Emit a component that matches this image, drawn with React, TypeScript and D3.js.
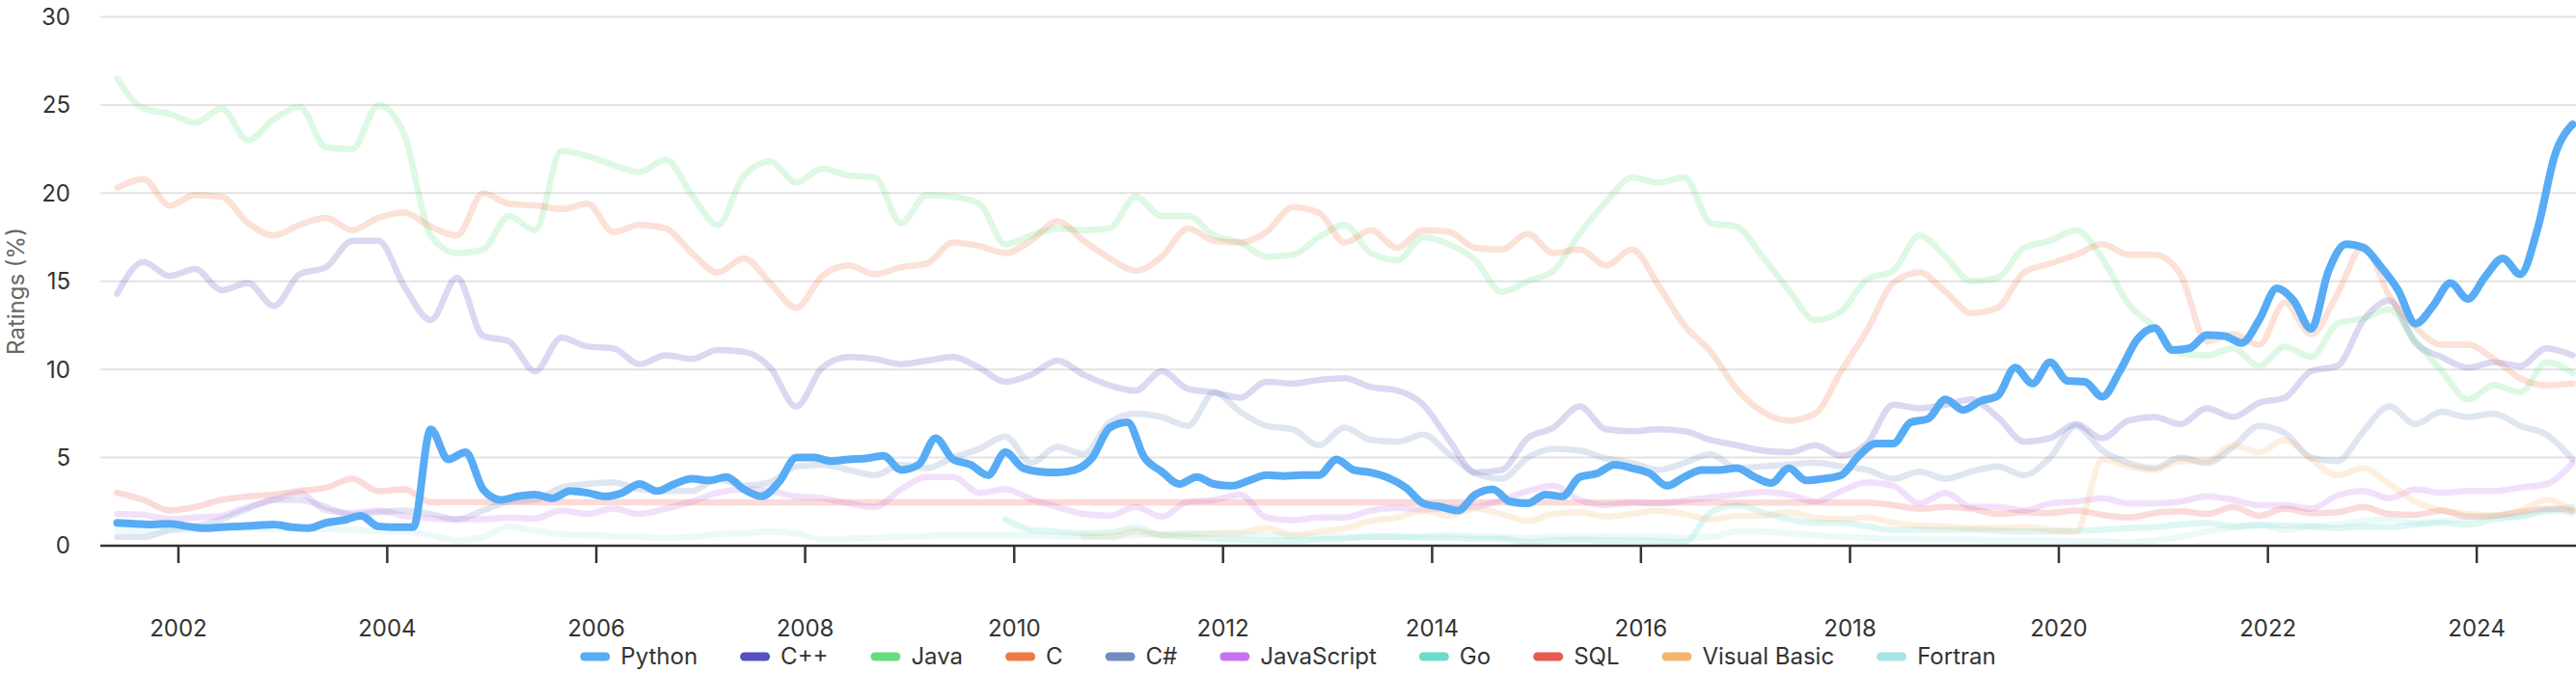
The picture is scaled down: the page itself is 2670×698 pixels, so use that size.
import * as d3 from "d3";

const WIDTH = 2670;
const HEIGHT = 698;
const plot = { left: 104, right: 2670, top: 17.5, bottom: 566 };

// TIOBE ratings (%)

// Python: every 2 months, Jun 2001 .. Dec 2024
const pythonValues = [
  1.3, 1.25, 1.2, 1.25, 1.1, 1.0, 1.05, 1.1, 1.15, 1.2,
  1.05, 1.0, 1.3, 1.45, 1.7, 1.1, 1.05, 1.05, 6.6, 4.9,
  5.3, 3.2, 2.6, 2.8, 2.9, 2.7, 3.1, 3.0, 2.8, 3.0,
  3.5, 3.1, 3.5, 3.8, 3.7, 3.9, 3.2, 2.8, 3.6, 5.0,
  5.0, 4.8, 4.9, 4.95, 5.1, 4.3, 4.6, 6.1, 4.9, 4.6,
  4.0, 5.3, 4.4, 4.2, 4.15, 4.3, 5.0, 6.7, 7.0, 5.0,
  4.2, 3.5, 3.9, 3.5, 3.4, 3.7, 4.0, 3.95, 4.0, 4.0,
  4.9, 4.3, 4.15, 3.85, 3.3, 2.4, 2.2, 2.0, 2.9, 3.2,
  2.5, 2.4, 2.9, 2.8, 3.9, 4.1, 4.6, 4.4, 4.1, 3.4,
  3.9, 4.3, 4.3, 4.4, 3.9, 3.55, 4.4, 3.7, 3.8, 4.0,
  5.1, 5.8, 5.8, 7.0, 7.2, 8.3, 7.7, 8.2, 8.5, 10.1,
  9.2, 10.4, 9.35, 9.3, 8.45, 9.9, 11.7, 12.35, 11.1, 11.2,
  11.95, 11.9, 11.5, 12.8, 14.6, 13.9, 12.3, 15.6, 17.1, 16.9,
  15.8, 14.5, 12.6, 13.6, 14.9, 14.0, 15.3, 16.3, 15.4, 18.0,
  22.2, 23.9,
];

// the rest: every 3 months from Jun 2001; xxStart = first quarter index
const cppValues = [
  14.3, 16.1, 15.3, 15.7, 14.5, 14.9, 13.6, 15.4, 15.8, 17.3,
  17.3, 14.7, 12.8, 15.2, 11.9, 11.6, 9.9, 11.8, 11.3, 11.2,
  10.3, 10.8, 10.6, 11.1, 11.0, 10.1, 7.9, 10.1, 10.7, 10.6,
  10.3, 10.5, 10.7, 10.1, 9.3, 9.7, 10.5, 9.7, 9.1, 8.8,
  9.9, 8.9, 8.7, 8.4, 9.3, 9.2, 9.4, 9.5, 9.0, 8.8,
  8.0, 6.0, 4.15, 4.3, 6.1, 6.7, 7.9, 6.6, 6.5, 6.6,
  6.5, 6.0, 5.7, 5.4, 5.3, 5.7, 5.1, 5.8, 8.0, 7.8,
  8.0, 8.3, 7.3, 5.9, 6.1, 6.9, 6.1, 7.1, 7.3, 6.9,
  7.8, 7.3, 8.1, 8.4, 9.9, 10.2, 12.8, 13.9, 11.5, 10.7,
  10.1, 10.4, 10.2, 11.2, 10.8,
];

const javaValues = [
  26.5, 24.8, 24.5, 24.0, 24.8, 23.0, 24.2, 24.9, 22.6, 22.5,
  25.0, 23.3, 17.6, 16.6, 16.8, 18.7, 17.9, 22.4, 22.1, 21.6,
  21.2, 21.9, 19.9, 18.2, 21.0, 21.8, 20.6, 21.4, 21.0, 20.9,
  18.3, 19.9, 19.8, 19.4, 17.1, 17.6, 18.0, 17.9, 18.0, 19.8,
  18.7, 18.7, 17.6, 17.2, 16.4, 16.5, 17.5, 18.2, 16.6, 16.2,
  17.5, 17.1, 16.2, 14.4, 15.0, 15.6, 17.7, 19.5, 20.9, 20.6,
  20.9, 18.3, 18.1, 16.4, 14.5, 12.8, 13.3, 15.1, 15.6, 17.6,
  16.4, 15.0, 15.2, 16.9, 17.3, 17.9, 16.3, 13.7, 12.4, 10.9,
  10.8, 11.2, 10.2, 11.3, 10.7, 12.6, 12.9, 13.4, 11.6, 9.9,
  8.3, 9.1, 8.7, 10.4, 9.8,
];

const cValues = [
  20.3, 20.8, 19.3, 19.9, 19.8, 18.3, 17.6, 18.2, 18.6, 17.9,
  18.6, 18.9, 18.1, 17.6, 20.0, 19.4, 19.3, 19.1, 19.4, 17.8,
  18.2, 18.0, 16.6, 15.5, 16.3, 14.9, 13.5, 15.3, 15.9, 15.4,
  15.8, 16.0, 17.2, 17.0, 16.6, 17.3, 18.4, 17.3, 16.3, 15.6,
  16.4, 18.0, 17.3, 17.2, 17.8, 19.2, 18.9, 17.2, 17.9, 16.9,
  17.9, 17.8, 16.9, 16.8, 17.7, 16.6, 16.8, 15.9, 16.8, 14.8,
  12.5, 11.0, 8.9, 7.6, 7.1, 7.5, 9.9, 12.2, 14.9, 15.5,
  14.4, 13.2, 13.5, 15.5, 16.0, 16.5, 17.1, 16.5, 16.5, 15.4,
  11.6, 12.0, 11.4, 13.8, 12.0, 14.3, 17.0, 14.2, 12.4, 11.4,
  11.4, 10.6, 9.5, 9.1, 9.2,
];

const csharpValues = [
  0.5, 0.5, 0.9, 1.1, 1.5, 2.1, 2.6, 2.6, 2.2, 1.75,
  1.9, 2.0, 1.8, 1.5, 2.0, 2.5, 2.6, 3.3, 3.5, 3.6,
  3.2, 3.1, 3.1, 3.8, 3.4, 3.6, 4.5, 4.6, 4.3, 4.0,
  4.6, 4.4, 5.0, 5.5, 6.2, 4.7, 5.6, 5.2, 7.0, 7.5,
  7.3, 6.8, 8.7, 7.6, 6.8, 6.6, 5.7, 6.7, 6.0, 5.9,
  6.3, 5.2, 4.1, 3.8, 5.0, 5.5, 5.4, 4.95, 4.7, 4.3,
  4.7, 5.2, 4.4, 4.5, 4.6, 4.7, 4.5, 4.3, 3.8, 4.2,
  3.8, 4.2, 4.5, 4.0, 5.0, 6.8, 5.4, 4.7, 4.4, 5.0,
  4.7, 5.6, 6.8, 6.4, 5.0, 4.8, 6.5, 7.9, 6.9, 7.6,
  7.3, 7.5, 6.8, 6.3, 4.9,
];

const jsValues = [
  1.8, 1.75, 1.5, 1.6, 1.7, 2.2, 2.6, 3.0, 2.0, 1.85,
  2.0, 1.7, 1.55, 1.5, 1.5, 1.6, 1.55, 2.0, 1.8, 2.1,
  1.8, 2.1, 2.5, 3.0, 3.2, 3.1, 2.8, 2.7, 2.4, 2.2,
  3.2, 3.9, 3.9, 3.0, 3.2, 2.65, 2.2, 1.8, 1.7, 2.2,
  1.65, 2.5, 2.6, 2.9, 1.6, 1.45, 1.6, 1.6, 2.0, 2.15,
  2.05, 2.15, 2.2, 2.6, 3.1, 3.4, 2.6, 2.3, 2.45, 2.4,
  2.55, 2.75, 2.9, 3.05, 2.9, 2.5, 3.1, 3.6, 3.4, 2.4,
  3.0, 2.2, 2.2, 2.0, 2.4, 2.5, 2.7, 2.4, 2.4, 2.5,
  2.8, 2.6, 2.3, 2.3, 2.1, 2.85, 3.1, 2.7, 3.2, 3.0,
  3.1, 3.1, 3.3, 3.5, 4.7,
];

const goStart = 34;
const goValues = [
  1.5, 0.9, 0.8, 0.7, 0.75, 1.0,
  0.6, 0.5, 0.4, 0.35, 0.3, 0.3, 0.35, 0.4, 0.5, 0.5,
  0.45, 0.45, 0.4, 0.4, 0.2, 0.3, 0.35, 0.3, 0.3, 0.25,
  0.2, 1.9, 2.3, 1.9, 1.5, 1.3, 1.3, 1.1, 0.9, 0.9,
  0.9, 0.9, 0.85, 0.8, 0.8, 0.85, 0.9, 1.0, 1.05, 1.2,
  1.3, 1.1, 1.15, 1.15, 1.1, 1.0, 1.1, 1.05, 1.2, 1.3,
  1.2, 1.5, 1.7, 2.0, 2.2,
];

// SQL drops out of the index between 2004 and 2018
const sqlEarlyValues = [3.0, 2.6, 2.0, 2.2, 2.6, 2.8, 2.9, 3.1, 3.3, 3.8, 3.1, 3.2, 2.47];
const sqlLateStart = 67;
const sqlLateValues = [
  2.45, 2.3, 2.1, 2.2, 2.1, 1.8, 1.9, 1.85, 2.0, 1.75,
  1.6, 1.85, 1.95, 1.8, 2.2, 1.7, 2.1, 1.85, 1.9, 2.2,
  1.8, 1.75, 2.0, 1.65, 1.7, 1.9, 2.1, 2.0,
];

const vbStart = 37;
const vbValues = [
  0.5, 0.5, 0.8,
  0.6, 0.65, 0.7, 0.75, 1.0, 0.6, 0.8, 1.0, 1.4, 1.6,
  2.0, 1.7, 2.1, 1.8, 1.4, 1.8, 1.9, 1.65, 1.8, 2.0,
  1.8, 1.5, 1.7, 1.7, 1.9, 1.6, 1.5, 1.6, 1.3, 1.15,
  1.1, 1.0, 1.0, 1.05, 0.9, 0.8, 4.9, 4.5, 4.3, 4.8,
  4.8, 5.7, 5.3, 6.0, 4.9, 4.0, 4.4, 3.5, 2.5, 2.0,
  1.8, 1.7, 2.0, 2.6, 1.95,
];

const fortranValues = [
  0.9, 0.9, 0.85, 0.9, 1.0, 1.0, 0.95, 1.0, 0.95, 0.9,
  0.8, 0.8, 0.6, 0.3, 0.5, 1.1, 0.85, 0.65, 0.6, 0.55,
  0.5, 0.45, 0.5, 0.65, 0.7, 0.8, 0.7, 0.35, 0.4, 0.45,
  0.5, 0.55, 0.6, 0.6, 0.6, 0.6, 0.55, 0.55, 0.55, 0.6,
  0.65, 0.7, 0.7, 0.65, 0.6, 0.55, 0.5, 0.5, 0.5, 0.5,
  0.55, 0.6, 0.55, 0.5, 0.45, 0.5, 0.5, 0.55, 0.5, 0.5,
  0.45, 0.5, 0.8, 0.8, 0.7, 0.6, 0.5, 0.45, 0.4, 0.4,
  0.35, 0.35, 0.3, 0.3, 0.3, 0.25, 0.25, 0.2, 0.3, 0.5,
  0.8, 1.0, 1.2, 0.9, 1.1, 1.2, 1.4, 1.5, 1.3, 1.4,
  1.5, 1.7, 1.6, 2.0, 1.85,
];

const languages = ["Python", "C++", "Java", "C", "C#", "JavaScript", "Go", "SQL", "Visual Basic", "Fortran"];
const colors = ["#57acf5", "#5650c0", "#66dd80", "#ef7847", "#728dbf", "#c673ef", "#6adcc9", "#e85a50", "#f5b56c", "#a7e4e4"];

const yTicks = [0, 5, 10, 15, 20, 25, 30];
const xTickYears = [2002, 2004, 2006, 2008, 2010, 2012, 2014, 2016, 2018, 2020, 2022, 2024];

type Pt = { date: Date; value: number };

// month step from Jun 2001
const toPoints = (values: number[], step: number, start = 0): Pt[] =>
  values.map((v, i) => ({ date: new Date(2001, 5 + step * (start + i), 1), value: v }));

const seriesPoints: Pt[][] = [
  toPoints(pythonValues, 2),
  toPoints(cppValues, 3),
  toPoints(javaValues, 3),
  toPoints(cValues, 3),
  toPoints(csharpValues, 3),
  toPoints(jsValues, 3),
  toPoints(goValues, 3, goStart),
  [...toPoints(sqlEarlyValues, 3), ...toPoints(sqlLateValues, 3, sqlLateStart)],
  toPoints(vbValues, 3, vbStart),
  toPoints(fortranValues, 3),
];

const FONT = "Inter, 'Noto Sans', sans-serif";

function measure(text: string) {
  const ctx = document.createElement("canvas").getContext("2d");
  if (!ctx) return text.length * 13;
  ctx.font = "24px Inter";
  return ctx.measureText(text).width;
}

export default function App() {
  const x = d3
    .scaleTime()
    .domain([new Date(2001, 3, 3), new Date(2024, 11, 13)])
    .range([plot.left, plot.right]);
  const y = d3.scaleLinear().domain([0, 30]).range([plot.bottom, plot.top]);

  const line = d3
    .line<Pt>()
    .x((d) => x(d.date))
    .y((d) => y(d.value))
    .curve(d3.curveMonotoneX);

  // legend layout: swatch, gap, label, gap; centred on the chart
  const swatchW = 31;
  const textGap = 11;
  const itemGap = 44;
  const widths = languages.map((l) => swatchW + textGap + measure(l));
  const total = d3.sum(widths) + itemGap * (languages.length - 1);
  let cursor = WIDTH / 2 - total / 2;
  const legendItems = languages.map((l, i) => {
    const item = { name: l, color: colors[i], x: cursor };
    cursor += widths[i] + itemGap;
    return item;
  });

  // faded lines first, Python on top
  const order = [1, 2, 3, 4, 5, 6, 7, 8, 9, 0];

  return (
    <svg
      width={WIDTH}
      height={HEIGHT}
      style={{ position: "absolute", left: 0, top: 0, background: "#fff", fontFamily: FONT }}
    >
      {/* grid */}
      <g>
        {yTicks.filter((t) => t > 0).map((t) => (
          <line key={t} x1={plot.left} x2={plot.right} y1={y(t)} y2={y(t)} stroke="#e3e3e3" strokeWidth={2} />
        ))}
      </g>

      {/* y axis labels */}
      <g fontSize={24} fill="#333" textAnchor="end">
        {yTicks.map((t) => (
          <text key={t} x={73} y={y(t)} dy="0.35em">
            {t}
          </text>
        ))}
      </g>
      <text
        transform={`translate(17,302) rotate(-90)`}
        textAnchor="middle"
        dy="0.35em"
        fontSize={24}
        fill="#666"
      >
        Ratings (%)
      </text>

      {/* lines */}
      <g fill="none" strokeLinejoin="round" strokeLinecap="round">
        {order.map((i) => (
          <path
            key={languages[i]}
            d={line(seriesPoints[i]) ?? ""}
            stroke={colors[i]}
            strokeWidth={i === 0 ? 8 : 6.5}
            strokeOpacity={i === 0 ? 1 : 0.22}
          />
        ))}
      </g>

      {/* x axis */}
      <line x1={plot.left} x2={plot.right} y1={plot.bottom} y2={plot.bottom} stroke="#333" strokeWidth={2.5} />
      <g>
        {xTickYears.map((yr) => {
          const px = x(new Date(yr, 0, 1));
          return (
            <g key={yr}>
              <line x1={px} x2={px} y1={plot.bottom} y2={plot.bottom + 18} stroke="#333" strokeWidth={2.5} />
              <text x={px} y={652} dy="0.35em" textAnchor="middle" fontSize={24} fill="#333">
                {yr}
              </text>
            </g>
          );
        })}
      </g>

      {/* legend */}
      <g>
        {legendItems.map((it) => (
          <g key={it.name}>
            <rect x={it.x} y={676.5} width={swatchW} height={9} rx={4.5} fill={it.color} />
            <text x={it.x + swatchW + textGap} y={681} dy="0.35em" fontSize={24} fill="#333">
              {it.name}
            </text>
          </g>
        ))}
      </g>
    </svg>
  );
}
